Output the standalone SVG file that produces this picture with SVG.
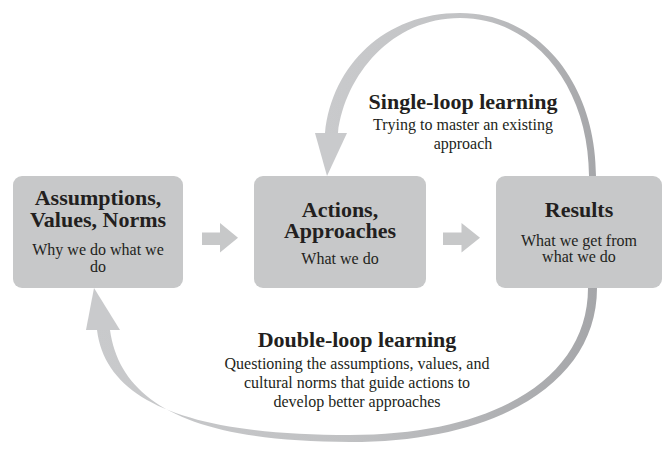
<svg xmlns="http://www.w3.org/2000/svg" width="663" height="449" viewBox="0 0 663 449">
<defs>
<style>
.box{fill:#c7c8c9;}
.blk{fill:#c7c8c9;}
.t{font-family:"Liberation Serif","Times New Roman",serif;fill:#231f20;text-anchor:middle;}
.h{font-size:22px;font-weight:bold;}
.s{font-size:16px;}
</style>
<linearGradient id="g1" gradientUnits="userSpaceOnUse" x1="325" y1="0" x2="600" y2="0">
<stop offset="0" stop-color="#c9cacc"/>
<stop offset="0.5" stop-color="#c2c3c5"/>
<stop offset="1" stop-color="#a5a6a9"/>
</linearGradient>
<linearGradient id="g2" gradientUnits="userSpaceOnUse" x1="95" y1="0" x2="600" y2="0">
<stop offset="0" stop-color="#c9cacc"/>
<stop offset="0.5" stop-color="#c0c1c3"/>
<stop offset="1" stop-color="#a5a6a9"/>
</linearGradient>
</defs>
<rect width="663" height="449" fill="#ffffff"/>
<g id="connectors">
<path id="single-loop" fill="url(#g1)" d="M 596,176 C 596,85 540,13 460,13 C 385,13 332,65 325,133 L 338,133 C 345,75 392,18 460,18 C 535,18 589,88 589,176 Z"/>
<polygon fill="#c9cacc" points="315,133 347,133 327,176"/>
<path id="double-loop" fill="url(#g2)" d="M 597,288 C 597,382 498,442 350,442 C 190,442 120,402 110,330 L 97,330 C 106,402 190,435 350,435 C 495,435 588,378 588,288 Z"/>
<polygon fill="#c9cacc" points="94,288 86,330 120,330"/>
<polygon class="blk" points="202,232.5 220,232.5 220,223 238,237.8 220,252.5 220,245 202,245"/>
<polygon class="blk" points="443,232.5 461.5,232.5 461.5,223 480,237.8 461.5,252.5 461.5,245 443,245"/>
</g>
<g id="node-assumptions">
<rect class="box" x="13" y="176" width="170" height="112" rx="9"/>
<text class="t h" x="98" y="205">Assumptions,</text>
<text class="t h" x="98" y="227">Values, Norms</text>
<text class="t s" x="98" y="255">Why we do what we</text>
<text class="t s" x="98" y="272">do</text>
</g>
<g id="node-actions">
<rect class="box" x="254" y="176" width="172" height="112" rx="9"/>
<text class="t h" x="340" y="217">Actions,</text>
<text class="t h" x="340" y="238">Approaches</text>
<text class="t s" x="340" y="264">What we do</text>
</g>
<g id="node-results">
<rect class="box" x="496" y="176" width="166" height="112" rx="9"/>
<text class="t h" x="579" y="217">Results</text>
<text class="t s" x="579" y="246">What we get from</text>
<text class="t s" x="579" y="262">what we do</text>
</g>
<g id="label-single">
<text class="t h" x="463" y="109">Single-loop learning</text>
<text class="t s" x="463" y="130">Trying to master an existing</text>
<text class="t s" x="463" y="149">approach</text>
</g>
<g id="label-double">
<text class="t h" x="357" y="347">Double-loop learning</text>
<text class="t s" x="357" y="369">Questioning the assumptions, values, and</text>
<text class="t s" x="357" y="388">cultural norms that guide actions to</text>
<text class="t s" x="357" y="407">develop better approaches</text>
</g>
</svg>
